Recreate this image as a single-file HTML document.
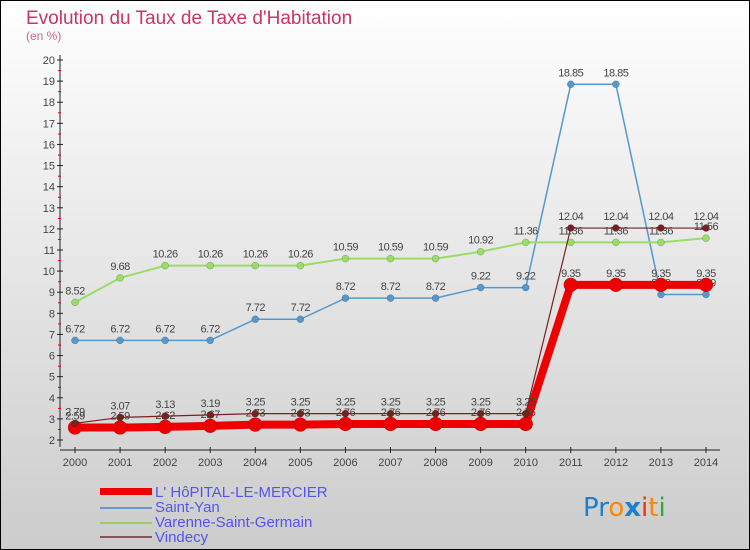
<!DOCTYPE html>
<html><head><meta charset="utf-8"><style>
body{margin:0;width:750px;height:550px;overflow:hidden}
svg{display:block;font-family:"Liberation Sans",sans-serif}
</style></head><body>
<svg id="c" width="750" height="550">
<defs><linearGradient id="bg" x1="0" y1="0" x2="0" y2="1"><stop offset="0" stop-color="#ffffff"/><stop offset="1" stop-color="#cccccc"/></linearGradient></defs>
<rect x="0.5" y="0.5" width="749" height="549" fill="url(#bg)" stroke="#000"/>
<text x="26" y="24" font-size="19" fill="#cc3366">Evolution du Taux de Taxe d'Habitation</text>
<text x="26" y="40" font-size="12" fill="#cc6688">(en %)</text>
<g id="axes"></g><g id="series"></g>
<g>
<rect x="100" y="488" width="52" height="7" fill="#ee0000"/>
<text x="155" y="497" font-size="15" fill="#5555ee">L' HôPITAL-LE-MERCIER</text>
<rect x="100" y="507" width="52" height="2" fill="#6699cc"/>
<text x="155" y="512" font-size="15" fill="#5555ee">Saint-Yan</text>
<rect x="100" y="522" width="52" height="2" fill="#99cc66"/>
<text x="155" y="527" font-size="15" fill="#5555ee">Varenne-Saint-Germain</text>
<rect x="100" y="536" width="52" height="2" fill="#885555"/>
<text x="155" y="542" font-size="15" fill="#5555ee">Vindecy</text>
</g>
<g font-size="26" font-family="'DejaVu Sans',sans-serif">
<text x="583" y="516"><tspan fill="#1a7fd0">Pr</tspan><tspan fill="#ff8800">o</tspan><tspan fill="#1a7fd0" font-weight="bold">x</tspan><tspan fill="#ee3300">i</tspan><tspan fill="#ff8800">t</tspan><tspan fill="#33aa33">i</tspan></text>
</g>
</svg>
<script>
const years=[2000,2001,2002,2003,2004,2005,2006,2007,2008,2009,2010,2011,2012,2013,2014];
const hopital=[2.59,2.59,2.62,2.67,2.73,2.73,2.76,2.76,2.76,2.76,2.76,9.35,9.35,9.35,9.35];
const saintYan=[6.72,6.72,6.72,6.72,7.72,7.72,8.72,8.72,8.72,9.22,9.22,18.85,18.85,8.89,8.89];
const varenne=[8.52,9.68,10.26,10.26,10.26,10.26,10.59,10.59,10.59,10.92,11.36,11.36,11.36,11.36,11.56];
const vindecy=[2.79,3.07,3.13,3.19,3.25,3.25,3.25,3.25,3.25,3.25,3.25,12.04,12.04,12.04,12.04];
const yTicks=[2,3,4,5,6,7,8,9,10,11,12,13,14,15,16,17,18,19,20];
const NS="http://www.w3.org/2000/svg";
function xS(i){return 75+i*(706-75)/(years.length-1);}
function yS(v){return 440-(v-2)*(380/18);}
function mk(t,a,p){const e=document.createElementNS(NS,t);for(const k in a)e.setAttribute(k,a[k]);p.appendChild(e);return e;}
const ax=document.getElementById('axes');
const yl=mk('line',{x1:60,y1:55,x2:60,y2:447,stroke:'#222'},ax);


yTicks.forEach(v=>{
 const y=yS(v);
 mk('line',{x1:57,y1:y,x2:63,y2:y,stroke:'#222'},ax);
 if(v<20)mk('line',{x1:58,y1:y-10.5,x2:61,y2:y-10.5,stroke:'#e00'},ax);
 const t=mk('text',{x:55,y:y+4,'font-size':11,fill:'#444','text-anchor':'end'},ax);t.textContent=v;
 
 
});
const xl=mk('line',{x1:60,y1:450,x2:720,y2:450,stroke:'#222'},ax);


years.forEach((yr,i)=>{
 const x=xS(i);
 mk('line',{x1:x,y1:447,x2:x,y2:453,stroke:'#222'},ax);
 const t=mk('text',{x:x,y:466,'font-size':11,fill:'#444','text-anchor':'middle'},ax);t.textContent=yr;
 
 
});
const sg=document.getElementById('series');
function draw(vals,name,color,w,r){
 const g=mk('g',{},sg);
 
 
 mk('polyline',{points:vals.map((v,i)=>xS(i)+','+yS(v)).join(' '),fill:'none',stroke:color,'stroke-width':w,'stroke-linejoin':'round'},g);
 vals.forEach((v,i)=>{
  const c=mk('circle',{cx:xS(i),cy:yS(v),r:r,fill:color,stroke:'rgba(0,0,0,0.3)','stroke-width':0.5},g);
  
  
  const t=mk('text',{x:xS(i),y:yS(v)-8,'font-size':11,fill:'#444','text-anchor':'middle','letter-spacing':'-0.5'},g);
  t.textContent=v.toFixed(2).replace(/0$/,'').replace(/\.$/,'');
  
  
 });
}
draw(saintYan,'saint-yan-series','#5599cc',1.5,3.5);
draw(varenne,'varenne-series','#99dd66',2,3.5);
draw(hopital,'hopital-series','#ee0000',8,7);
draw(vindecy,'vindecy-series','#772222',1.2,3.5);
</script>
</body></html>
